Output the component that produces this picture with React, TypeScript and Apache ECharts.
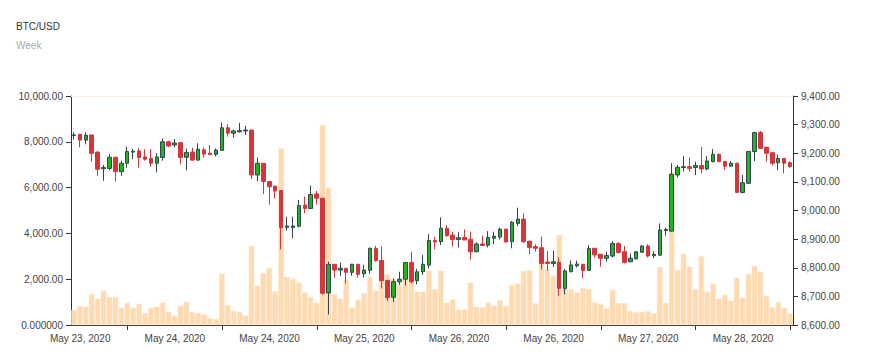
import React, { useEffect, useRef } from "react";
import * as echarts from "echarts";

// OHLC (right axis, USD)
const opens = [
  9262, 9266, 9246, 9264, 9204, 9146, 9147, 9186, 9136, 9165, 9204, 9208, 9187, 9182, 9165, 9185, 9240, 9229, 9237, 9186,
  9204, 9176, 9212, 9200, 9196, 9210, 9289, 9270, 9275, 9278, 9281, 9124, 9165, 9101, 9085, 9070, 8941, 8941, 8945, 9019,
  9007, 9058, 9043, 8712, 8812, 8792, 8798, 8784, 8812, 8779, 8791, 8867, 8825, 8756, 8697, 8751, 8760, 8818, 8755, 8786,
  8809, 8895, 8891, 8938, 8914, 8899, 8906, 8900, 8856, 8883, 8879, 8903, 8907, 8935, 8891, 8955, 8970, 8893, 8874, 8870,
  8820, 8815, 8819, 8728, 8786, 8807, 8812, 8791, 8868, 8847, 8833, 8841, 8885, 8856, 8821, 8831, 8854, 8876, 8842, 8844,
  8930, 8928, 9124, 9150, 9153, 9150, 9157, 9145, 9171, 9196, 9171, 9155, 9165, 9063, 9095, 9206, 9272, 9221, 9202, 9167,
  9182, 9167,
];
const closes = [
  9264, 9246, 9263, 9200, 9144, 9150, 9186, 9136, 9165, 9206, 9207, 9185, 9179, 9165, 9187, 9240, 9225, 9236, 9185, 9203,
  9176, 9214, 9197, 9195, 9211, 9289, 9270, 9278, 9279, 9281, 9124, 9165, 9101, 9083, 9068, 8940, 8946, 8946, 9017, 9007,
  9056, 9043, 8711, 8812, 8792, 8798, 8784, 8812, 8777, 8792, 8868, 8825, 8755, 8695, 8751, 8760, 8818, 8751, 8786, 8812,
  8895, 8890, 8938, 8912, 8899, 8905, 8897, 8856, 8883, 8878, 8906, 8910, 8935, 8890, 8959, 8970, 8891, 8871, 8868, 8815,
  8815, 8821, 8728, 8789, 8810, 8813, 8790, 8867, 8845, 8833, 8843, 8885, 8853, 8819, 8833, 8856, 8876, 8841, 8847, 8932,
  8934, 9126, 9151, 9153, 9147, 9157, 9145, 9173, 9196, 9171, 9155, 9165, 9063, 9097, 9206, 9272, 9217, 9200, 9165, 9182,
  9165, 9153,
];
const lows = [
  9248, 9221, 9231, 9171, 9121, 9104, 9141, 9101, 9121, 9150, 9179, 9150, 9174, 9153, 9133, 9174, 9221, 9221, 9161, 9140,
  9174, 9174, 9185, 9194, 9189, 9209, 9258, 9254, 9272, 9264, 9110, 9103, 9057, 9021, 9042, 8864, 8930, 8903, 8941, 8990,
  9005, 9021, 8705, 8637, 8765, 8772, 8745, 8772, 8765, 8766, 8779, 8821, 8728, 8684, 8681, 8740, 8738, 8745, 8742, 8775,
  8798, 8865, 8879, 8908, 8874, 8871, 8897, 8829, 8854, 8877, 8871, 8882, 8899, 8888, 8868, 8946, 8886, 8847, 8856, 8794,
  8789, 8803, 8702, 8707, 8784, 8801, 8763, 8790, 8835, 8804, 8821, 8836, 8850, 8815, 8819, 8829, 8853, 8836, 8833, 8842,
  8912, 8926, 9115, 9136, 9136, 9124, 9130, 9141, 9168, 9168, 9141, 9153, 9062, 9060, 9093, 9173, 9215, 9171, 9157, 9141,
  9130, 9150,
];
const highs = [
  9273, 9267, 9273, 9264, 9207, 9159, 9197, 9187, 9174, 9223, 9215, 9217, 9214, 9214, 9200, 9252, 9244, 9250, 9238, 9216,
  9219, 9235, 9220, 9229, 9217, 9308, 9301, 9283, 9306, 9296, 9282, 9185, 9166, 9102, 9086, 9071, 8978, 8978, 9037, 9048,
  9087, 9068, 9044, 8821, 8813, 8818, 8799, 8814, 8813, 8810, 8870, 8877, 8874, 8757, 8763, 8786, 8818, 8856, 8796, 8845,
  8918, 8908, 8976, 8949, 8926, 8924, 8934, 8926, 8889, 8912, 8928, 8926, 8940, 8936, 8963, 9010, 8990, 8894, 8882, 8909,
  8858, 8860, 8836, 8796, 8825, 8825, 8813, 8879, 8869, 8848, 8856, 8893, 8889, 8876, 8850, 8858, 8878, 8882, 8858, 8955,
  8940, 9165, 9159, 9190, 9185, 9171, 9222, 9190, 9215, 9200, 9173, 9173, 9167, 9124, 9208, 9275, 9278, 9223, 9203, 9196,
  9183, 9173,
];
// Volume (left axis)
const volumes = [
  655, 830, 786, 1350, 1150, 1500, 1223, 1208, 757, 961, 757, 932, 524, 757, 801, 975, 582, 408, 844, 1019,
  568, 524, 452, 306, 262, 2242, 873, 611, 570, 408, 3450, 1718, 2271, 2489, 1470, 7715, 2096, 2009, 1863, 1420,
  1208, 975, 8734, 5997, 1339, 1150, 1980, 757, 1106, 1383, 2096, 1500, 2839, 2213, 1994, 1747, 2766, 2766, 1456, 1456,
  2373, 1572, 2373, 975, 1110, 665, 690, 1849, 795, 771, 975, 850, 1092, 830, 1747, 1805, 2358, 2387, 946, 3086,
  2431, 2154, 3930, 1601, 1558, 1427, 1616, 1572, 990, 903, 720, 1528, 961, 946, 611, 553, 568, 597, 509, 2533,
  961, 6696, 2402, 3100, 2547, 1572, 2999, 1456, 1790, 1150, 1310, 1063, 2067, 1194, 2227, 2577, 2315, 1266, 771, 990,
  757, 500,
];
const dateLabels = [
  "May 23, 2020", "May 24, 2020", "May 24, 2020", "May 25, 2020",
  "May 26, 2020", "May 26, 2020", "May 27, 2020", "May 28, 2020",
];
// tick / label positions on the time scale (in candle units)
const tickValues = [9.55, 25.55, 41.55, 57.55, 73.55, 89.55, 105.55, 121.55];
const labelValues = [1.55, 17.55, 33.55, 49.55, 65.55, 81.55, 97.55, 113.55];

const categories = opens.map((_, i) => String(i));
const FONT = "'Liberation Sans', Arial, sans-serif";

export default function App() {
  const ref = useRef<HTMLDivElement>(null);
  useEffect(() => {
    if (!ref.current) return;
    const chart = echarts.init(ref.current, undefined, { renderer: "svg" });
    const ohlc = opens.map((o, i) => [o, closes[i], lows[i], highs[i]]);
    const fmt2 = (v: number) =>
      v.toLocaleString("en-US", { minimumFractionDigits: 2, maximumFractionDigits: 2 });
    const axisColor = "#333";
    chart.setOption({
      animation: false,
      textStyle: { fontFamily: FONT },
      title: {
        text: "BTC/USD",
        subtext: "Week",
        left: 16,
        top: 21,
        padding: 0,
        itemGap: 9,
        textStyle: { fontSize: 10, fontWeight: "normal", color: "#333", fontFamily: FONT },
        subtextStyle: { fontSize: 10, color: "#aaa", fontFamily: FONT },
      },
      grid: { left: 71, right: 85, top: 96, bottom: 31 },
      xAxis: [
        {
          type: "category",
          data: categories,
          position: "top",
          boundaryGap: true,
          axisLine: { show: true, onZero: false, lineStyle: { color: "#fcefe2" } },
          axisTick: { show: false },
          axisLabel: { show: false },
          splitLine: { show: false },
        },
        {
          type: "value",
          min: 0,
          max: opens.length,
          position: "bottom",
          axisLine: { show: true, onZero: false, lineStyle: { color: axisColor } },
          axisTick: { show: true, customValues: tickValues, length: 5, lineStyle: { color: axisColor } },
          axisLabel: {
            show: true,
            customValues: labelValues,
            color: "#444",
            fontSize: 10,
            fontFamily: FONT,
            margin: 8,
            formatter: (v: number) => {
              let best = 0;
              labelValues.forEach((lv, i) => {
                if (Math.abs(lv - v) < Math.abs(labelValues[best] - v)) best = i;
              });
              return dateLabels[best];
            },
          },
          splitLine: { show: false },
        },
      ],
      yAxis: [
        {
          type: "value",
          position: "left",
          min: 0,
          max: 10000,
          interval: 2000,
          axisLine: { show: true, onZero: false, lineStyle: { color: axisColor } },
          axisTick: { show: true, length: 5, lineStyle: { color: axisColor } },
          axisLabel: {
            color: "#444",
            fontSize: 10,
            fontFamily: FONT,
            margin: 8,
            formatter: (v: number) => (v === 0 ? "0.000000" : fmt2(v)),
          },
          splitLine: { show: false },
        },
        {
          type: "value",
          position: "right",
          min: 8600,
          max: 9400,
          interval: 100,
          axisLine: { show: true, onZero: false, lineStyle: { color: axisColor } },
          axisTick: { show: true, length: 5, lineStyle: { color: axisColor } },
          axisLabel: {
            color: "#444",
            fontSize: 10,
            fontFamily: FONT,
            margin: 8,
            formatter: (v: number) => fmt2(v),
          },
          splitLine: { show: false },
        },
      ],
      series: [
        {
          type: "bar",
          name: "Volume",
          xAxisIndex: 0,
          yAxisIndex: 0,
          data: volumes,
          barCategoryGap: "8%",
          itemStyle: { color: "#ffdab0", borderColor: "#ffe4c6", borderWidth: 0.5 },
          z: 1,
        },
        {
          type: "candlestick",
          name: "BTC/USD",
          xAxisIndex: 0,
          yAxisIndex: 1,
          data: ohlc,
          barWidth: 4,
          itemStyle: {
            color: "#1fb51f",
            color0: "#d5363b",
            borderColor: "#34444f",
            borderColor0: "#d5363b",
            borderColorDoji: "#34444f",
            borderWidth: 1,
          },
          z: 3,
        },
      ],
    });
    return () => chart.dispose();
  }, []);
  return (
    <div
      ref={ref}
      style={{ position: "absolute", left: 0, top: 0, width: 878, height: 356, background: "#fff" }}
    />
  );
}
